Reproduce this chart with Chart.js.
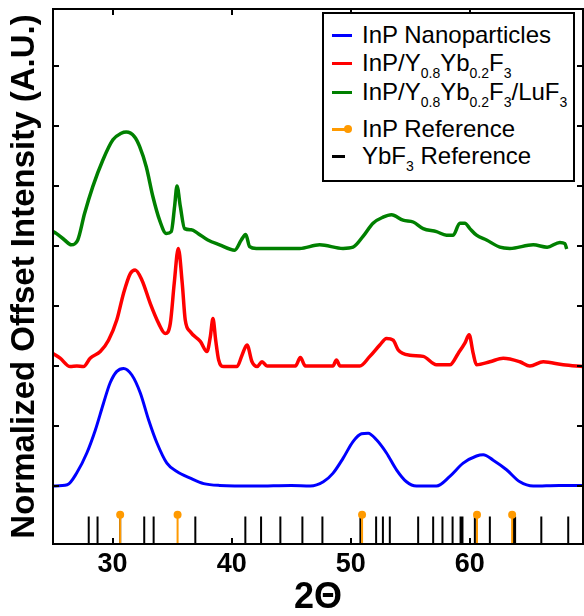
<!DOCTYPE html>
<html>
<head>
<meta charset="utf-8">
<script src="https://cdn.jsdelivr.net/npm/chart.js@4.4.1/dist/chart.umd.min.js"></script>
<style>
  body { margin: 0; background: #fff; }
  #wrap { position: relative; width: 584px; height: 616px; }
  #legend {
    position: absolute; left: 322px; top: 12px; width: 249px; height: 166px;
    border: 2px solid #000; background: #fff;
    font-family: "Liberation Sans", Arial, sans-serif; font-size: 24px; color: #000;
  }
  .row { position: absolute; left: 38px; height: 28px; line-height: 28px; white-space: nowrap; }
  .row sub { font-size: 14px; vertical-align: -7px; line-height: 0; }
  .swatch { position: absolute; left: 8px; width: 20px; height: 3px; }
  .dot { position: absolute; width: 8px; height: 8px; border-radius: 50%; }
</style>
</head>
<body>
<div id="wrap">
  <canvas id="chart" width="584" height="616"></canvas>
  <div id="legend"></div>
</div>
<script>
// 2-theta (deg), normalized offset intensity
const nanoScan = [
  [25.0, 0.0], [26.2, 0.02], [27.0, 0.22], [27.84, 0.55], [28.55, 0.93], [29.24, 1.38],
  [29.8, 1.72], [30.36, 1.91], [30.92, 1.96], [31.62, 1.85], [32.33, 1.55], [33.03, 1.10],
  [33.72, 0.72], [34.56, 0.38], [35.4, 0.24], [36.53, 0.13], [37.65, 0.04], [39.0, 0.01],
  [42.0, 0.0], [45.0, 0.01], [46.6, 0.0], [47.7, 0.07], [48.5, 0.21], [49.35, 0.46],
  [50.19, 0.74], [50.9, 0.87], [51.46, 0.88], [52.16, 0.77], [53.0, 0.55], [53.84, 0.27],
  [54.68, 0.07], [55.52, 0.0], [57.2, 0.0], [58.32, 0.16], [59.44, 0.38], [60.56, 0.50],
  [61.12, 0.52], [61.96, 0.43], [63.08, 0.27], [64.2, 0.07], [65.32, 0.0], [67.5, 0.01], [69.5, 0.01]
]
const ybCoreScan = [
  [25.0, 2.21], [25.6, 2.13], [26.44, 1.99], [27.0, 2.0], [27.56, 1.99], [28.12, 2.13],
  [28.97, 2.24], [29.66, 2.43], [30.36, 2.77], [30.92, 3.21], [31.49, 3.54], [31.9, 3.60],
  [32.47, 3.43], [33.17, 3.04], [33.87, 2.71], [34.43, 2.54], [34.85, 2.71], [35.18, 3.38],
  [35.52, 3.96], [35.85, 3.38], [36.1, 2.77], [36.53, 2.57], [37.37, 2.41], [37.93, 2.24],
  [38.21, 2.49], [38.43, 2.79], [38.66, 2.43], [38.91, 2.10], [39.33, 1.99], [40.45, 1.99],
  [40.87, 2.18], [41.29, 2.35], [41.71, 2.07], [42.13, 1.99], [42.55, 2.07], [42.97, 2.0],
  [44.65, 2.0], [45.35, 2.0], [45.77, 2.14], [46.19, 2.0], [47.73, 2.0], [48.5, 2.0],
  [48.8, 2.1], [49.1, 2.0], [50.76, 2.0], [51.6, 2.16], [52.44, 2.35], [53.0, 2.46],
  [53.56, 2.43], [53.98, 2.27], [54.96, 2.18], [56.08, 2.16], [57.2, 2.02], [58.32, 2.02],
  [59.02, 2.21], [59.58, 2.38], [59.94, 2.52], [60.28, 2.21], [60.56, 2.02], [61.68, 2.07],
  [62.8, 2.13], [64.2, 2.07], [65.04, 2.0], [66.16, 2.07], [67.84, 2.02], [69.5, 1.99]
]
const luShellScan = [
  [25.0, 4.24], [25.27, 4.21], [25.97, 4.1], [26.53, 4.02], [27.08, 4.1], [27.65, 4.54],
  [28.34, 4.99], [29.18, 5.43], [30.03, 5.77], [30.73, 5.88], [31.15, 5.9], [31.85, 5.82],
  [32.27, 5.66], [32.83, 5.32], [33.39, 4.82], [33.95, 4.43], [34.51, 4.21], [34.93, 4.24],
  [35.21, 4.66], [35.41, 5.0], [35.69, 4.66], [36.05, 4.29], [36.61, 4.27], [37.17, 4.21],
  [38.0, 4.1], [38.99, 4.02], [40.25, 3.93], [40.81, 4.1], [41.18, 4.19], [41.51, 3.99],
  [42.07, 3.96], [44.31, 3.96], [45.71, 3.96], [47.39, 4.02], [49.35, 3.96], [50.19, 3.98],
  [51.03, 4.16], [51.87, 4.38], [52.71, 4.48], [53.42, 4.52], [54.39, 4.43], [55.24, 4.4],
  [56.08, 4.29], [57.2, 4.24], [58.04, 4.18], [58.6, 4.18], [59.16, 4.38], [59.58, 4.38],
  [60.0, 4.29], [60.56, 4.18], [61.4, 4.1], [62.52, 3.98], [63.36, 3.96], [65.32, 4.02],
  [66.49, 3.98], [67.56, 4.06], [67.98, 4.04], [68.13, 3.95]
]
// reference stick patterns (2-theta)
const inpRefPeaks = [30.64, 35.46, 50.95, 60.6, 63.55]
const ybf3RefPeaks = [28.0, 28.74, 30.64, 32.66, 33.45, 36.95, 41.15, 42.47, 44.09, 45.94,
  47.62, 50.81, 52.13, 52.7, 53.28, 55.66, 56.92, 57.7, 58.55, 59.22, 59.38, 60.42,
  61.68, 63.64, 63.8, 66.0, 68.26]
const inpRefTop = -0.48
const ybf3RefTop = -0.51

const xTickValues = [30, 40, 50, 60]
const yTickValues = [0, 1, 2, 3, 4, 5, 6, 7]
const X_MIN = 25
const X_MAX = 69.5
const Y_MIN = -0.967
const Y_MAX = 7.95

const legendItems = [
  { color: '#0000ff', html: 'InP Nanoparticles' },
  { color: '#ff0000', html: 'InP/Y<sub>0.8</sub>Yb<sub>0.2</sub>F<sub>3</sub>' },
  { color: '#008000', html: 'InP/Y<sub>0.8</sub>Yb<sub>0.2</sub>F<sub>3</sub>/LuF<sub>3</sub>' },
  { color: '#ff9a00', html: 'InP Reference', dot: true },
  { color: '#000000', html: 'YbF<sub>3</sub> Reference', short: true }
]
const legendRowCenters = [21, 49, 78, 115, 142]

const toPoints = scan => scan.map(([x, y]) => ({ x, y }))
const toSticks = (peaks, top) =>
  peaks.flatMap(t => [{ x: t, y: Y_MIN }, { x: t, y: top }, { x: t, y: null }])

const framePlugin = {
  id: 'frame',
  afterDatasetsDraw (chart) {
    const { ctx, chartArea: a, scales: { x, y } } = chart
    ctx.save()
    ctx.strokeStyle = '#000'
    ctx.lineWidth = 2
    ctx.strokeRect(a.left, a.top, a.right - a.left, a.bottom - a.top)
    ctx.beginPath()
    for (const v of xTickValues) {
      const px = Math.round(x.getPixelForValue(v))
      ctx.moveTo(px, a.bottom); ctx.lineTo(px, a.bottom - 6)
      ctx.moveTo(px, a.top); ctx.lineTo(px, a.top + 6)
    }
    for (const v of yTickValues) {
      const py = Math.round(y.getPixelForValue(v))
      ctx.moveTo(a.left, py); ctx.lineTo(a.left + 6, py)
      ctx.moveTo(a.right, py); ctx.lineTo(a.right - 6, py)
    }
    ctx.stroke()
    ctx.restore()
  }
}

const lineDs = (label, scan, color, width) => ({
  label,
  data: toPoints(scan),
  borderColor: color,
  borderWidth: width,
  pointRadius: 0,
  cubicInterpolationMode: 'monotone'
})

new Chart(document.getElementById('chart').getContext('2d'), {
  type: 'line',
  data: {
    datasets: [
      lineDs('InP Nanoparticles', nanoScan, '#0000ff', 3),
      lineDs('InP/Y0.8Yb0.2F3', ybCoreScan, '#ff0000', 3.5),
      lineDs('InP/Y0.8Yb0.2F3/LuF3', luShellScan, '#008000', 3.5),
      {
        label: 'InP Reference',
        data: toSticks(inpRefPeaks, inpRefTop),
        borderColor: '#ff9a00',
        borderWidth: 2,
        spanGaps: false,
        pointRadius: c => (c.dataIndex % 3 === 1 ? 4 : 0),
        pointBackgroundColor: '#ff9a00',
        pointBorderWidth: 0
      },
      {
        label: 'YbF3 Reference',
        data: toSticks(ybf3RefPeaks, ybf3RefTop),
        borderColor: '#000',
        borderWidth: 2,
        spanGaps: false,
        pointRadius: 0
      }
    ]
  },
  options: {
    responsive: false,
    animation: false,
    layout: { padding: { top: 9, right: 1, left: 0, bottom: 0 } },
    plugins: { legend: { display: false }, tooltip: { enabled: false } },
    scales: {
      x: {
        type: 'linear',
        min: X_MIN,
        max: X_MAX,
        grid: { display: false, drawTicks: false },
        border: { display: false },
        afterBuildTicks: s => { s.ticks = xTickValues.map(v => ({ value: v })) },
        afterFit: s => { s.height = 72 },
        ticks: {
          color: '#000',
          padding: 4,
          maxRotation: 0,
          font: { family: 'Liberation Sans', size: 27, weight: 'bold' }
        },
        title: {
          display: true,
          text: '2Θ',
          color: '#000',
          padding: 0,
          font: { family: 'Liberation Sans', size: 36, weight: 'bold', lineHeight: 1 }
        }
      },
      y: {
        min: Y_MIN,
        max: Y_MAX,
        grid: { display: false, drawTicks: false },
        border: { display: false },
        afterBuildTicks: s => { s.ticks = yTickValues.map(v => ({ value: v })) },
        afterFit: s => { s.width = 53 },
        ticks: { display: false },
        title: {
          display: true,
          text: 'Normalized Offset Intensity (A.U.)',
          color: '#000',
          padding: { top: 8, bottom: 0 },
          font: { family: 'Liberation Sans', size: 33, weight: 'bold', lineHeight: 1 }
        }
      }
    }
  },
  plugins: [framePlugin]
})

// legend with subscripts
const legend = document.getElementById('legend')
legendItems.forEach((item, i) => {
  const c = legendRowCenters[i]
  const sw = document.createElement('div')
  sw.className = 'swatch'
  sw.style.top = (c - 1.5) + 'px'
  sw.style.background = item.color
  if (item.short) sw.style.width = '13px'
  if (item.dot) sw.style.width = '16px'
  legend.appendChild(sw)
  if (item.dot) {
    const d = document.createElement('div')
    d.className = 'dot'
    d.style.left = '20px'
    d.style.top = (c - 4) + 'px'
    d.style.background = item.color
    legend.appendChild(d)
  }
  const row = document.createElement('div')
  row.className = 'row'
  row.style.top = (c - 14) + 'px'
  row.innerHTML = item.html
  legend.appendChild(row)
})
</script>
</body>
</html>
